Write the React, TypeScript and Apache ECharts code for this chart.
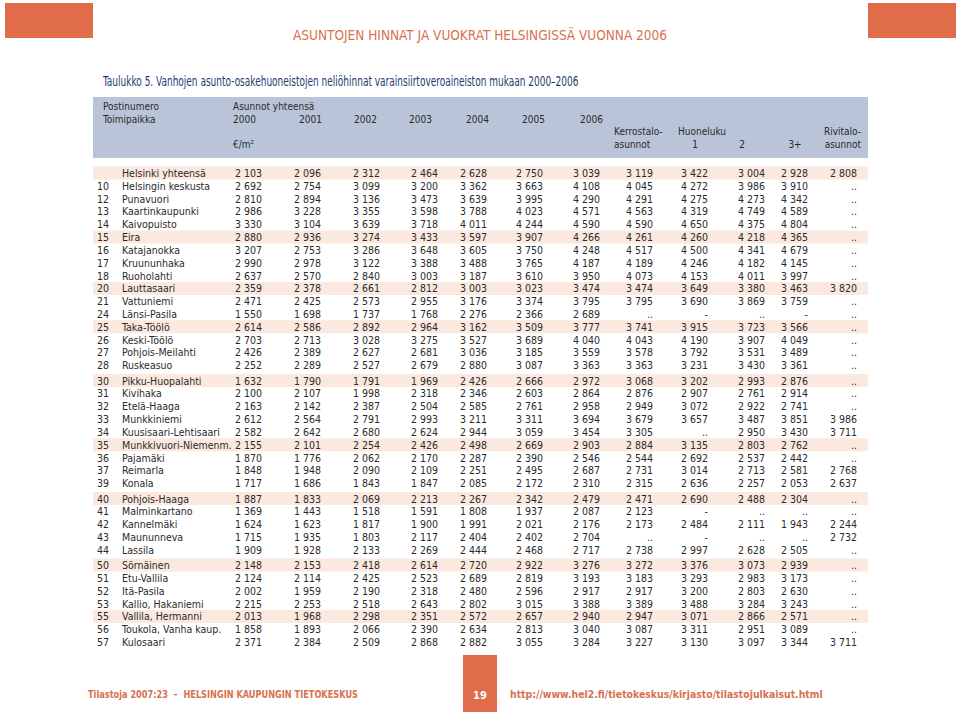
import React, { useEffect, useRef } from "react";
import * as echarts from "echarts";

// ---------- DATA ----------
const codes = ["", "10", "12", "13", "14", "15", "16", "17", "18", "20", "21", "24", "25", "26", "27", "28", "30", "31", "32", "33", "34", "35", "36", "37", "39", "40", "41", "42", "43", "44", "50", "51", "52", "53", "55", "56", "57"];
const names = ["Helsinki yhteensä", "Helsingin keskusta", "Punavuori", "Kaartinkaupunki", "Kaivopuisto", "Eira", "Katajanokka", "Kruununhaka", "Ruoholahti", "Lauttasaari", "Vattuniemi", "Länsi-Pasila", "Taka-Töölö", "Keski-Töölö", "Pohjois-Meilahti", "Ruskeasuo", "Pikku-Huopalahti", "Kivihaka", "Etelä-Haaga", "Munkkiniemi", "Kuusisaari-Lehtisaari", "Munkkivuori-Niemenm.", "Pajamäki", "Reimarla", "Konala", "Pohjois-Haaga", "Malminkartano", "Kannelmäki", "Maununneva", "Lassila", "Sörnäinen", "Etu-Vallila", "Itä-Pasila", "Kallio, Hakaniemi", "Vallila, Hermanni", "Toukola, Vanha kaup.", "Kulosaari"];
type V = number | string;
const y2000: V[] = [2103, 2692, 2810, 2986, 3330, 2880, 3207, 2990, 2637, 2359, 2471, 1550, 2614, 2703, 2426, 2252, 1632, 2100, 2163, 2612, 2582, 2155, 1870, 1848, 1717, 1887, 1369, 1624, 1715, 1909, 2148, 2124, 2002, 2215, 2013, 1858, 2371];
const y2001: V[] = [2096, 2754, 2894, 3228, 3104, 2936, 2753, 2978, 2570, 2378, 2425, 1698, 2586, 2713, 2389, 2289, 1790, 2107, 2142, 2564, 2642, 2101, 1776, 1948, 1686, 1833, 1443, 1623, 1935, 1928, 2153, 2114, 1959, 2253, 1968, 1893, 2384];
const y2002: V[] = [2312, 3099, 3136, 3355, 3639, 3274, 3286, 3122, 2840, 2661, 2573, 1737, 2892, 3028, 2627, 2527, 1791, 1998, 2387, 2791, 2680, 2254, 2062, 2090, 1843, 2069, 1518, 1817, 1803, 2133, 2418, 2425, 2190, 2518, 2298, 2066, 2509];
const y2003: V[] = [2464, 3200, 3473, 3598, 3718, 3433, 3648, 3388, 3003, 2812, 2955, 1768, 2964, 3275, 2681, 2679, 1969, 2318, 2504, 2993, 2624, 2426, 2170, 2109, 1847, 2213, 1591, 1900, 2117, 2269, 2614, 2523, 2318, 2643, 2351, 2390, 2868];
const y2004: V[] = [2628, 3362, 3639, 3788, 4011, 3597, 3605, 3488, 3187, 3003, 3176, 2276, 3162, 3527, 3036, 2880, 2426, 2346, 2585, 3211, 2944, 2498, 2287, 2251, 2085, 2267, 1808, 1991, 2404, 2444, 2720, 2689, 2480, 2802, 2572, 2634, 2882];
const y2005: V[] = [2750, 3663, 3995, 4023, 4244, 3907, 3750, 3765, 3610, 3023, 3374, 2366, 3509, 3689, 3185, 3087, 2666, 2603, 2761, 3311, 3059, 2669, 2390, 2495, 2172, 2342, 1937, 2021, 2402, 2468, 2922, 2819, 2596, 3015, 2657, 2813, 3055];
const y2006: V[] = [3039, 4108, 4290, 4571, 4590, 4266, 4248, 4187, 3950, 3474, 3795, 2689, 3777, 4040, 3559, 3363, 2972, 2864, 2958, 3694, 3454, 2903, 2546, 2687, 2310, 2479, 2087, 2176, 2704, 2717, 3276, 3193, 2917, 3388, 2940, 3040, 3284];
const kerrostalo: V[] = [3119, 4045, 4291, 4563, 4590, 4261, 4517, 4189, 4073, 3474, 3795, "..", 3741, 4043, 3578, 3363, 3068, 2876, 2949, 3679, 3305, 2884, 2544, 2731, 2315, 2471, 2123, 2173, "..", 2738, 3272, 3183, 2917, 3389, 2947, 3087, 3227];
const rooms1: V[] = [3422, 4272, 4275, 4319, 4650, 4260, 4500, 4246, 4153, 3649, 3690, "-", 3915, 4190, 3792, 3231, 3202, 2907, 3072, 3657, "..", 3135, 2692, 3014, 2636, 2690, "-", 2484, "-", 2997, 3376, 3293, 3200, 3488, 3071, 3311, 3130];
const rooms2: V[] = [3004, 3986, 4273, 4749, 4375, 4218, 4341, 4182, 4011, 3380, 3869, "..", 3723, 3907, 3531, 3430, 2993, 2761, 2922, 3487, 2950, 2803, 2537, 2713, 2257, 2488, "..", 2111, "..", 2628, 3073, 2983, 2803, 3284, 2866, 2951, 3097];
const rooms3: V[] = [2928, 3910, 4342, 4589, 4804, 4365, 4679, 4145, 3997, 3463, 3759, "-", 3566, 4049, 3489, 3361, 2876, 2914, 2741, 3851, 3430, 2762, 2442, 2581, 2053, 2304, "..", 1943, "..", 2505, 2939, 3173, 2630, 3243, 2571, 3089, 3344];
const rivitalo: V[] = [2808, "..", "..", "..", "..", "..", "..", "..", "..", 3820, "..", "..", "..", "..", "..", "..", "..", "..", "..", 3986, 3711, "..", "..", 2768, 2637, "..", "..", 2244, 2732, "..", "..", "..", "..", "..", "..", "..", 3711];
const highlightedCodes = ["", "15", "20", "25", "30", "35", "40", "50", "55"];
const groupStartCodes = ["30", "40", "50"];
const yearLabels = ["2000", "2001", "2002", "2003", "2004", "2005", "2006"];

const title = "ASUNTOJEN HINNAT JA VUOKRAT HELSINGISSÄ VUONNA 2006";
const subtitle = "Taulukko 5. Vanhojen asunto-osakehuoneistojen neliöhinnat varainsiirtoveroaineiston mukaan 2000–2006";
const footerLeft = "Tilastoja 2007:23  –  HELSINGIN KAUPUNGIN TIETOKESKUS";
const footerRight = "http://www.hel2.fi/tietokeskus/kirjasto/tilastojulkaisut.html";
const pageNumber = "19";

// ---------- LAYOUT ----------
const ORANGE = "#e06c4a";
const NAVY = "#1d3c6e";
const TEXT = "#2a2a2a";
const BODY_FONT = '"DejaVu Sans Condensed", "DejaVu Sans", sans-serif';
const NARROW_FONT = '"DejaVu Sans Condensed", "Liberation Sans Narrow", sans-serif';
const colRight = [262, 321, 380, 438, 487, 543, 600, 653, 708, 765, 808, 857];
const ROW0 = 173;
const STEP = 12.82;
const GAP = 2.5;

function fmt(v: V): string {
  if (typeof v === "string") return v;
  const th = Math.floor(v / 1000);
  const rest = String(v % 1000).padStart(3, "0");
  return th > 0 ? `${th} ${rest}` : String(v);
}

function txt(x: number, y: number, text: string, opts: any = {}) {
  const align = opts.align || "left";
  const va = opts.va || "middle";
  return {
    type: "text",
    x,
    y,
    scaleX: opts.scaleX || 1,
    silent: true,
    style: {
      text,
      fill: opts.fill || TEXT,
      fontSize: opts.fontSize || 10.5,
      fontFamily: opts.fontFamily || BODY_FONT,
      fontWeight: opts.fontWeight || "normal",
      align,
      textAlign: align,
      verticalAlign: va,
      textVerticalAlign: va,
    },
  };
}

export default function App() {
  const ref = useRef<HTMLDivElement>(null);
  useEffect(() => {
    if (!ref.current) return;
    const chart = echarts.init(ref.current, undefined, { renderer: "svg" });
    const els: any[] = [];

    // top decorations
    els.push({ type: "rect", silent: true, shape: { x: 5, y: 3, width: 88, height: 35 }, style: { fill: ORANGE } });
    els.push({ type: "rect", silent: true, shape: { x: 868, y: 3, width: 88, height: 35 }, style: { fill: ORANGE } });
    els.push(txt(480, 35, title, { align: "center", fill: "#d8714f", fontSize: 13.5, fontFamily: NARROW_FONT }));
    els.push(txt(103, 81, subtitle, { fill: NAVY, fontSize: 14, fontFamily: NARROW_FONT, scaleX: 0.714 }));

    // header band
    els.push({ type: "rect", silent: true, shape: { x: 93, y: 97, width: 775, height: 61 }, style: { fill: "#b9c4d9" } });
    const hf = { fontSize: 10 };
    els.push(txt(103, 106, "Postinumero", hf));
    els.push(txt(103, 119, "Toimipaikka", hf));
    els.push(txt(233, 106, "Asunnot yhteensä", hf));
    const yearX = [233, 299, 354, 409, 466, 522, 580];
    yearLabels.forEach((l, i) => els.push(txt(yearX[i], 119, l, hf)));
    els.push(txt(233, 144, "€/m²", hf));
    els.push(txt(614, 131, "Kerrostalo-", hf));
    els.push(txt(614, 144, "asunnot", hf));
    els.push(txt(678, 131, "Huoneluku", hf));
    els.push(txt(695, 144, "1", { ...hf, align: "center" }));
    els.push(txt(742, 144, "2", { ...hf, align: "center" }));
    els.push(txt(795, 144, "3+", { ...hf, align: "center" }));
    els.push(txt(861, 131, "Rivitalo-", { ...hf, align: "right" }));
    els.push(txt(861, 144, "asunnot", { ...hf, align: "right" }));

    // rows
    const cols = [y2000, y2001, y2002, y2003, y2004, y2005, y2006, kerrostalo, rooms1, rooms2, rooms3, rivitalo];
    let gaps = 0;
    codes.forEach((code, i) => {
      if (groupStartCodes.includes(code)) gaps++;
      const y = ROW0 + i * STEP + gaps * GAP;
      if (highlightedCodes.includes(code)) {
        els.push({ type: "rect", silent: true, shape: { x: 93, y: y - 6.5, width: 775, height: 13 }, style: { fill: "#fbe8df" } });
      }
      if (code) els.push(txt(97, y, code));
      els.push(txt(122, y, names[i]));
      cols.forEach((col, c) => {
        els.push(txt(colRight[c], y, fmt(col[i]), { align: "right" }));
      });
    });

    // footer
    els.push({ type: "rect", silent: true, shape: { x: 463, y: 655, width: 34, height: 57 }, style: { fill: ORANGE } });
    els.push(txt(480, 695, pageNumber, { align: "center", fill: "#ffffff", fontSize: 11, fontWeight: "bold", fontFamily: NARROW_FONT }));
    els.push(txt(88, 694, footerLeft, { fill: "#d8714f", fontSize: 11, fontWeight: "bold", fontFamily: NARROW_FONT, scaleX: 0.83 }));
    els.push(txt(510, 694, footerRight, { fill: "#d8714f", fontSize: 11, fontWeight: "bold", fontFamily: NARROW_FONT, scaleX: 0.945 }));

    chart.setOption({ animation: false, backgroundColor: "#ffffff", graphic: { elements: els } });
    return () => chart.dispose();
  }, []);
  return <div ref={ref} style={{ position: "fixed", left: 0, top: 0, width: 960, height: 712, background: "#fff" }} />;
}
